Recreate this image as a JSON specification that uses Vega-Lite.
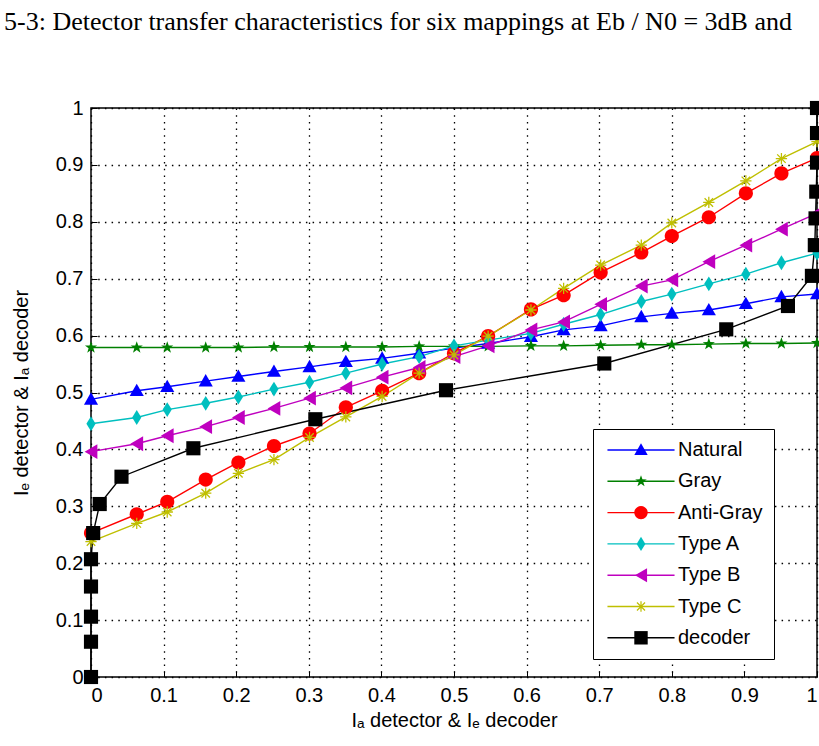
{
  "$schema": "https://vega.github.io/schema/vega-lite/v6.json",
  "width": 726,
  "height": 569,
  "autosize": {"type": "none"},
  "padding": {"left": 91, "top": 108, "right": 2, "bottom": 69},
  "background": "white",
  "title": {"text": "5-3: Detector transfer characteristics for six mappings at  Eb / N0  = 3dB and", "font": "Liberation Serif", "fontSize": 26, "fontWeight": "normal", "anchor": "start", "frame": "group", "dx": -87, "offset": 63, "color": "black"},
  "config": {
    "font": "Liberation Sans",
    "view": {"stroke": "black", "strokeWidth": 1.5},
    "axis": {"grid": true, "gridColor": "black", "gridDash": [1.5, 5.2], "gridWidth": 1.3, "gridOpacity": 1, "domain": false, "ticks": true, "tickColor": "black", "tickSize": -6, "tickWidth": 1, "labelFontSize": 20, "labelColor": "black", "labelFont": "Liberation Sans", "titleFont": "Liberation Sans", "titleFontSize": 20, "titleFontWeight": "normal", "titleColor": "black"}
  },
  "data": {"values": [
    {"s":"Natural","i":0,"x":0,"y":0.488},{"s":"Natural","i":1,"x":0.063,"y":0.503},{"s":"Natural","i":2,"x":0.105,"y":0.510},{"s":"Natural","i":3,"x":0.158,"y":0.520},{"s":"Natural","i":4,"x":0.203,"y":0.528},{"s":"Natural","i":5,"x":0.252,"y":0.537},{"s":"Natural","i":6,"x":0.301,"y":0.545},{"s":"Natural","i":7,"x":0.351,"y":0.554},{"s":"Natural","i":8,"x":0.401,"y":0.560},{"s":"Natural","i":9,"x":0.452,"y":0.569},{"s":"Natural","i":10,"x":0.5,"y":0.578},{"s":"Natural","i":11,"x":0.547,"y":0.586},{"s":"Natural","i":12,"x":0.606,"y":0.598},{"s":"Natural","i":13,"x":0.651,"y":0.610},{"s":"Natural","i":14,"x":0.702,"y":0.617},{"s":"Natural","i":15,"x":0.758,"y":0.633},{"s":"Natural","i":16,"x":0.8,"y":0.639},{"s":"Natural","i":17,"x":0.851,"y":0.645},{"s":"Natural","i":18,"x":0.902,"y":0.656},{"s":"Natural","i":19,"x":0.951,"y":0.668},{"s":"Natural","i":20,"x":1.0,"y":0.673},
    {"s":"Gray","i":0,"x":0,"y":0.579},{"s":"Gray","i":1,"x":0.063,"y":0.579},{"s":"Gray","i":2,"x":0.105,"y":0.579},{"s":"Gray","i":3,"x":0.158,"y":0.579},{"s":"Gray","i":4,"x":0.203,"y":0.579},{"s":"Gray","i":5,"x":0.252,"y":0.580},{"s":"Gray","i":6,"x":0.301,"y":0.580},{"s":"Gray","i":7,"x":0.351,"y":0.580},{"s":"Gray","i":8,"x":0.401,"y":0.580},{"s":"Gray","i":9,"x":0.452,"y":0.581},{"s":"Gray","i":10,"x":0.5,"y":0.581},{"s":"Gray","i":11,"x":0.547,"y":0.581},{"s":"Gray","i":12,"x":0.606,"y":0.582},{"s":"Gray","i":13,"x":0.651,"y":0.582},{"s":"Gray","i":14,"x":0.702,"y":0.583},{"s":"Gray","i":15,"x":0.758,"y":0.584},{"s":"Gray","i":16,"x":0.8,"y":0.584},{"s":"Gray","i":17,"x":0.851,"y":0.585},{"s":"Gray","i":18,"x":0.902,"y":0.586},{"s":"Gray","i":19,"x":0.951,"y":0.586},{"s":"Gray","i":20,"x":1.0,"y":0.587},
    {"s":"Anti-Gray","i":0,"x":0,"y":0.253},{"s":"Anti-Gray","i":1,"x":0.063,"y":0.286},{"s":"Anti-Gray","i":2,"x":0.105,"y":0.308},{"s":"Anti-Gray","i":3,"x":0.158,"y":0.347},{"s":"Anti-Gray","i":4,"x":0.203,"y":0.377},{"s":"Anti-Gray","i":5,"x":0.252,"y":0.406},{"s":"Anti-Gray","i":6,"x":0.301,"y":0.428},{"s":"Anti-Gray","i":7,"x":0.351,"y":0.474},{"s":"Anti-Gray","i":8,"x":0.401,"y":0.503},{"s":"Anti-Gray","i":9,"x":0.452,"y":0.534},{"s":"Anti-Gray","i":10,"x":0.5,"y":0.569},{"s":"Anti-Gray","i":11,"x":0.547,"y":0.599},{"s":"Anti-Gray","i":12,"x":0.606,"y":0.646},{"s":"Anti-Gray","i":13,"x":0.651,"y":0.671},{"s":"Anti-Gray","i":14,"x":0.702,"y":0.711},{"s":"Anti-Gray","i":15,"x":0.758,"y":0.746},{"s":"Anti-Gray","i":16,"x":0.8,"y":0.775},{"s":"Anti-Gray","i":17,"x":0.851,"y":0.808},{"s":"Anti-Gray","i":18,"x":0.902,"y":0.850},{"s":"Anti-Gray","i":19,"x":0.951,"y":0.885},{"s":"Anti-Gray","i":20,"x":1.0,"y":0.912},
    {"s":"Type A","i":0,"x":0,"y":0.445},{"s":"Type A","i":1,"x":0.063,"y":0.456},{"s":"Type A","i":2,"x":0.105,"y":0.470},{"s":"Type A","i":3,"x":0.158,"y":0.481},{"s":"Type A","i":4,"x":0.203,"y":0.492},{"s":"Type A","i":5,"x":0.252,"y":0.506},{"s":"Type A","i":6,"x":0.301,"y":0.518},{"s":"Type A","i":7,"x":0.351,"y":0.534},{"s":"Type A","i":8,"x":0.401,"y":0.550},{"s":"Type A","i":9,"x":0.452,"y":0.563},{"s":"Type A","i":10,"x":0.5,"y":0.582},{"s":"Type A","i":11,"x":0.547,"y":0.592},{"s":"Type A","i":12,"x":0.606,"y":0.604},{"s":"Type A","i":13,"x":0.651,"y":0.620},{"s":"Type A","i":14,"x":0.702,"y":0.637},{"s":"Type A","i":15,"x":0.758,"y":0.660},{"s":"Type A","i":16,"x":0.8,"y":0.673},{"s":"Type A","i":17,"x":0.851,"y":0.691},{"s":"Type A","i":18,"x":0.902,"y":0.708},{"s":"Type A","i":19,"x":0.951,"y":0.728},{"s":"Type A","i":20,"x":1.0,"y":0.745},
    {"s":"Type B","i":0,"x":0,"y":0.396},{"s":"Type B","i":1,"x":0.063,"y":0.410},{"s":"Type B","i":2,"x":0.105,"y":0.424},{"s":"Type B","i":3,"x":0.158,"y":0.440},{"s":"Type B","i":4,"x":0.203,"y":0.456},{"s":"Type B","i":5,"x":0.252,"y":0.472},{"s":"Type B","i":6,"x":0.301,"y":0.490},{"s":"Type B","i":7,"x":0.351,"y":0.508},{"s":"Type B","i":8,"x":0.401,"y":0.527},{"s":"Type B","i":9,"x":0.452,"y":0.544},{"s":"Type B","i":10,"x":0.5,"y":0.563},{"s":"Type B","i":11,"x":0.547,"y":0.582},{"s":"Type B","i":12,"x":0.606,"y":0.610},{"s":"Type B","i":13,"x":0.651,"y":0.624},{"s":"Type B","i":14,"x":0.702,"y":0.655},{"s":"Type B","i":15,"x":0.758,"y":0.687},{"s":"Type B","i":16,"x":0.8,"y":0.698},{"s":"Type B","i":17,"x":0.851,"y":0.730},{"s":"Type B","i":18,"x":0.902,"y":0.759},{"s":"Type B","i":19,"x":0.951,"y":0.787},{"s":"Type B","i":20,"x":1.0,"y":0.815},
    {"s":"Type C","i":0,"x":0,"y":0.238},{"s":"Type C","i":1,"x":0.063,"y":0.270},{"s":"Type C","i":2,"x":0.105,"y":0.290},{"s":"Type C","i":3,"x":0.158,"y":0.323},{"s":"Type C","i":4,"x":0.203,"y":0.358},{"s":"Type C","i":5,"x":0.252,"y":0.382},{"s":"Type C","i":6,"x":0.301,"y":0.421},{"s":"Type C","i":7,"x":0.351,"y":0.457},{"s":"Type C","i":8,"x":0.401,"y":0.493},{"s":"Type C","i":9,"x":0.452,"y":0.534},{"s":"Type C","i":10,"x":0.5,"y":0.566},{"s":"Type C","i":11,"x":0.547,"y":0.599},{"s":"Type C","i":12,"x":0.606,"y":0.645},{"s":"Type C","i":13,"x":0.651,"y":0.683},{"s":"Type C","i":14,"x":0.702,"y":0.724},{"s":"Type C","i":15,"x":0.758,"y":0.759},{"s":"Type C","i":16,"x":0.8,"y":0.798},{"s":"Type C","i":17,"x":0.851,"y":0.834},{"s":"Type C","i":18,"x":0.902,"y":0.872},{"s":"Type C","i":19,"x":0.951,"y":0.911},{"s":"Type C","i":20,"x":1.0,"y":0.941},
    {"s":"decoder","i":0,"x":0,"y":0},{"s":"decoder","i":1,"x":0,"y":0.062},{"s":"decoder","i":2,"x":0,"y":0.106},{"s":"decoder","i":3,"x":0,"y":0.159},{"s":"decoder","i":4,"x":0,"y":0.207},{"s":"decoder","i":5,"x":0.003,"y":0.253},{"s":"decoder","i":6,"x":0.012,"y":0.304},{"s":"decoder","i":7,"x":0.042,"y":0.352},{"s":"decoder","i":8,"x":0.141,"y":0.402},{"s":"decoder","i":9,"x":0.309,"y":0.453},{"s":"decoder","i":10,"x":0.489,"y":0.504},{"s":"decoder","i":11,"x":0.707,"y":0.551},{"s":"decoder","i":12,"x":0.875,"y":0.611},{"s":"decoder","i":13,"x":0.96,"y":0.652},{"s":"decoder","i":14,"x":0.993,"y":0.705},{"s":"decoder","i":15,"x":0.997,"y":0.759},{"s":"decoder","i":16,"x":0.998,"y":0.806},{"s":"decoder","i":17,"x":0.999,"y":0.853},{"s":"decoder","i":18,"x":1.0,"y":0.904},{"s":"decoder","i":19,"x":1.0,"y":0.956},{"s":"decoder","i":20,"x":1.0,"y":1.0}
  ]},
  "encoding": {
    "x": {"field": "x", "type": "quantitative", "scale": {"domain": [0, 1], "nice": false, "zero": false},
      "axis": {"values": [0,0.1,0.2,0.3,0.4,0.5,0.6,0.7,0.8,0.9,1], "format": "~g", "title": "Iₐ detector  &  Iₑ decoder", "labelPadding": 14, "titlePadding": 5}},
    "y": {"field": "y", "type": "quantitative", "scale": {"domain": [0, 1], "nice": false, "zero": false},
      "axis": {"values": [0,0.1,0.2,0.3,0.4,0.5,0.6,0.7,0.8,0.9,1], "format": "~g", "title": "Iₑ detector  &  Iₐ decoder", "labelPadding": 14, "titlePadding": 24}}
  },
  "layer": [
    {"mark": {"type": "line", "strokeWidth": 1.4, "clip": false},
     "encoding": {
       "stroke": {"field": "s", "type": "nominal",
         "sort": ["Natural","Gray","Anti-Gray","Type A","Type B","Type C","decoder"],
         "scale": {"range": ["#0000ff","#008000","#ff0000","#00bfbf","#bf00bf","#bfbf00","#000000"]},
         "legend": {"orient": "none", "legendX": 502, "legendY": 321, "title": null, "padding": 11, "zindex": 5, "symbolType": "M-5,0L5,0", "symbolSize": 180, "symbolOffset": 27, "labelOffset": 27, "labelFontSize": 20, "labelFont": "Liberation Sans", "labelOpacity": 0, "rowPadding": 11.3, "symbolStrokeWidth": 1.4, "symbolFillColor": "transparent"}},
       "order": {"field": "i", "type": "quantitative"}}},
    {"mark": {"type": "point", "filled": true, "size": 200, "opacity": 1, "clip": false},
     "encoding": {
       "color": {"field": "s", "type": "nominal",
         "scale": {"domain": ["Natural","Gray","Anti-Gray","Type A","Type B","Type C","decoder"], "range": ["#0000ff","#008000","#ff0000","#00bfbf","#bf00bf","#bfbf00","#000000"]},
         "legend": {"orient": "none", "legendX": 502, "legendY": 321, "title": null, "padding": 11, "zindex": 1, "strokeColor": "black", "fillColor": "white", "symbolSize": 180, "symbolOffset": 27, "labelOffset": 27, "labelFontSize": 20, "labelFont": "Liberation Sans", "labelColor": "black", "rowPadding": 11.3, "cornerRadius": 0}},
       "shape": {"field": "s", "type": "nominal",
         "scale": {"domain": ["Natural","Gray","Anti-Gray","Type A","Type B","Type C","decoder"],
           "range": ["M0,-1L1,0.75L-1,0.75Z",
                     "M0,-0.9L0.212,-0.291L0.856,-0.278L0.342,0.111L0.529,0.728L0,0.36L-0.529,0.728L-0.342,0.111L-0.856,-0.278L-0.212,-0.291Z",
                     "M1,0A1,1 0 1,1 -1,0A1,1 0 1,1 1,0Z",
                     "M0,-1.05L0.65,0L0,1.05L-0.65,0Z",
                     "M-0.9,0L0.9,-1.05L0.9,1.05Z",
                     "M-0.09,-0.8L0.09,-0.8L0.09,0.8L-0.09,0.8ZM-0.8,-0.09L0.8,-0.09L0.8,0.09L-0.8,0.09ZM0.664,0.536L0.536,0.664L-0.664,-0.536L-0.536,-0.664ZM0.536,-0.664L0.664,-0.536L-0.536,0.664L-0.664,0.536Z",
                     "M-1,-1L1,-1L1,1L-1,1Z"]},
         "legend": {"orient": "none", "legendX": 502, "legendY": 321, "title": null, "padding": 11, "zindex": 1, "strokeColor": "black", "fillColor": "white", "symbolSize": 180, "symbolOffset": 27, "labelOffset": 27, "labelFontSize": 20, "labelFont": "Liberation Sans", "labelColor": "black", "rowPadding": 11.3, "cornerRadius": 0}}}}
  ]
}
